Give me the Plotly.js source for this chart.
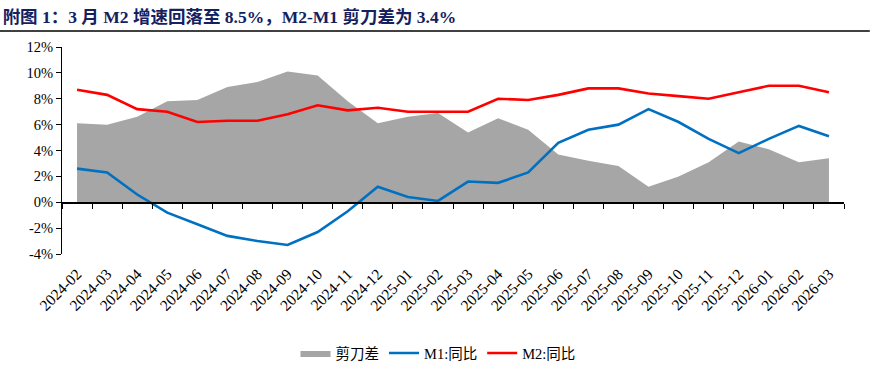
<!DOCTYPE html>
<html>
<head>
<meta charset="utf-8">
<script src="https://cdn.plot.ly/plotly-3.0.1.min.js"></script>
<style>html,body{margin:0;padding:0;background:#fff;}#chart{width:876px;height:369px;}</style>
</head>
<body>
<div id="chart"></div>
<script>
const months = ["2024-02","2024-03","2024-04","2024-05","2024-06","2024-07","2024-08","2024-09","2024-10","2024-11","2024-12",
  "2025-01","2025-02","2025-03","2025-04","2025-05","2025-06","2025-07","2025-08","2025-09","2025-10","2025-11","2025-12",
  "2026-01","2026-02","2026-03"];
const m1 = [2.6,2.3,0.6,-0.8,-1.7,-2.6,-3.0,-3.3,-2.3,-0.7,1.2,0.4,0.1,1.6,1.5,2.3,4.6,5.6,6.0,7.2,6.2,4.9,3.8,4.9,5.9,5.1];
const m2 = [8.7,8.3,7.2,7.0,6.2,6.3,6.3,6.8,7.5,7.1,7.3,7.0,7.0,7.0,8.0,7.9,8.3,8.8,8.8,8.4,8.2,8.0,8.5,9.0,9.0,8.5];
const spread = [6.1,6.0,6.6,7.8,7.9,8.9,9.3,10.1,9.8,7.8,6.1,6.6,6.9,5.4,6.5,5.6,3.7,3.2,2.8,1.2,2.0,3.1,4.7,4.1,3.1,3.4];
const yTicks = [-4,-2,0,2,4,6,8,10,12];
const yTickText = ["-4%","-2%","0%","2%","4%","6%","8%","10%","12%"];
const titleText = "附图 1：3 月 M2 增速回落至 8.5%，M2-M1 剪刀差为 3.4%";
const names = ["剪刀差","M1:同比","M2:同比"];

const serif = "Liberation Serif, Times New Roman, Noto Sans CJK SC, serif";

const traces = [
  {x: months, y: spread, name: names[0], type: 'scatter', mode: 'lines', fill: 'tozeroy',
   fillcolor: '#A6A6A6', line: {width: 0, color: '#A6A6A6'}, hoverinfo: 'skip'},
  {x: months, y: m1, name: names[1], type: 'scatter', mode: 'lines', line: {color: '#0070C0', width: 2.6}},
  {x: months, y: m2, name: names[2], type: 'scatter', mode: 'lines', line: {color: '#FF0000', width: 2.6}},
  {x: months, y: m1, xaxis: 'x2', type: 'scatter', mode: 'lines', line: {width: 0}, opacity: 0,
   showlegend: false, hoverinfo: 'skip'}
];

const layout = {
  width: 876, height: 369,
  margin: {l: 62, r: 32, t: 47, b: 115},
  paper_bgcolor: '#fff', plot_bgcolor: 'rgba(0,0,0,0)',
  font: {family: serif, color: '#000', size: 14},
  title: {text: titleText, x: 0.003, xref: 'container', xanchor: 'left', y: 0.953, yref: 'container', yanchor: 'middle',
          font: {family: serif, size: 17.5, color: '#14215E', weight: 'bold'}},
  showlegend: true,
  legend: {orientation: 'h', x: 0.5, xanchor: 'center', xref: 'container', y: 0.043, yref: 'container', yanchor: 'middle',
           font: {family: serif, size: 14.5, color: '#000'}, itemwidth: 30, tracegroupgap: 0},
  xaxis: {type: 'category', categoryarray: months, range: [-0.5, 25.5], showline: false, ticks: '',
          showgrid: false, zeroline: false, tickangle: -45, ticklabelstandoff: 7,
          tickfont: {family: serif, size: 15.5, color: '#000'}, anchor: 'y'},
  xaxis2: {type: 'category', categoryarray: months, range: [-0.5, 25.5], overlaying: 'x', anchor: 'free', position: 0.25,
           showline: true, linecolor: '#000', linewidth: 1.3, ticks: 'outside', tickson: 'boundaries', ticklen: 5,
           tickcolor: '#000', tickwidth: 1, showticklabels: false, showgrid: false, zeroline: false, layer: 'above traces'},
  yaxis: {range: [-4, 12], tickvals: yTicks, ticktext: yTickText, showline: true, linecolor: '#000', linewidth: 1,
          ticks: 'outside', ticklen: 5, tickcolor: '#000', showgrid: false, zeroline: false,
          tickfont: {family: serif, size: 14.5, color: '#000'}},
  shapes: [{type: 'line', xref: 'paper', yref: 'paper', x0: -0.0793, x1: 1.033, y0: 1.077, y1: 1.077,
            line: {color: '#000', width: 1.5}}]
};

Plotly.newPlot('chart', traces, layout, {staticPlot: true, displayModeBar: false});
</script>
</body>
</html>
